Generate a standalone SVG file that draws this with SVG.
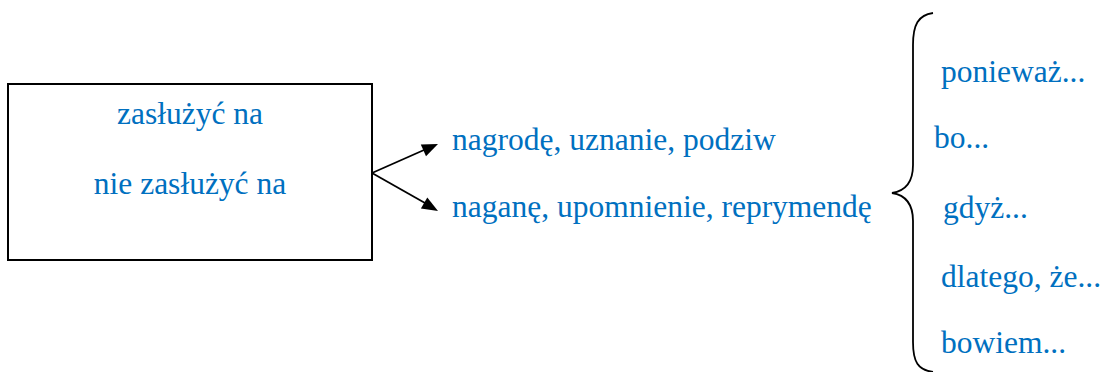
<svg xmlns="http://www.w3.org/2000/svg" width="1106" height="372" viewBox="0 0 1106 372">
<style>
text{font-family:"Times New Roman","Liberation Serif","DejaVu Serif",serif;font-size:31.5px;fill:#0070C0}
.c{stroke:#000;stroke-width:1.8;fill:none}
.h{fill:#000;stroke:none}
</style>
<rect width="1106" height="372" fill="#fff"/>
<g id="box">
<rect x="8" y="84" width="364" height="176" fill="none" stroke="#000" stroke-width="2"/>
<text x="190" y="124" text-anchor="middle">zasłużyć na</text>
<text x="190" y="194" text-anchor="middle">nie zasłużyć na</text>
</g>
<g id="connectors">
<line class="c" x1="372" y1="173" x2="424" y2="150"/>
<path class="h" d="M438,144 L426,156.3 L420.8,144.5 Z"/>
<line class="c" x1="372" y1="173" x2="425" y2="203"/>
<path class="h" d="M438,211 L420.9,208.6 L427.3,197.4 Z"/>
<path class="c" d="M933,13 C918,15 913,25 913,45 L913,165 C913,183 905,191 892,193 C905,195 913,203 913,221 L913,342 C913,362 918,370 933,372" stroke-width="2"/>
</g>
<g id="positive"><text x="452" y="150">nagrodę, uznanie, podziw</text></g>
<g id="negative"><text x="452" y="217">naganę, upomnienie, reprymendę</text></g>
<g id="reasons">
<text x="941" y="82">ponieważ...</text>
<text x="934" y="148">bo...</text>
<text x="943" y="218">gdyż...</text>
<text x="941" y="287">dlatego, że...</text>
<text x="941" y="353">bowiem...</text>
</g>
</svg>
